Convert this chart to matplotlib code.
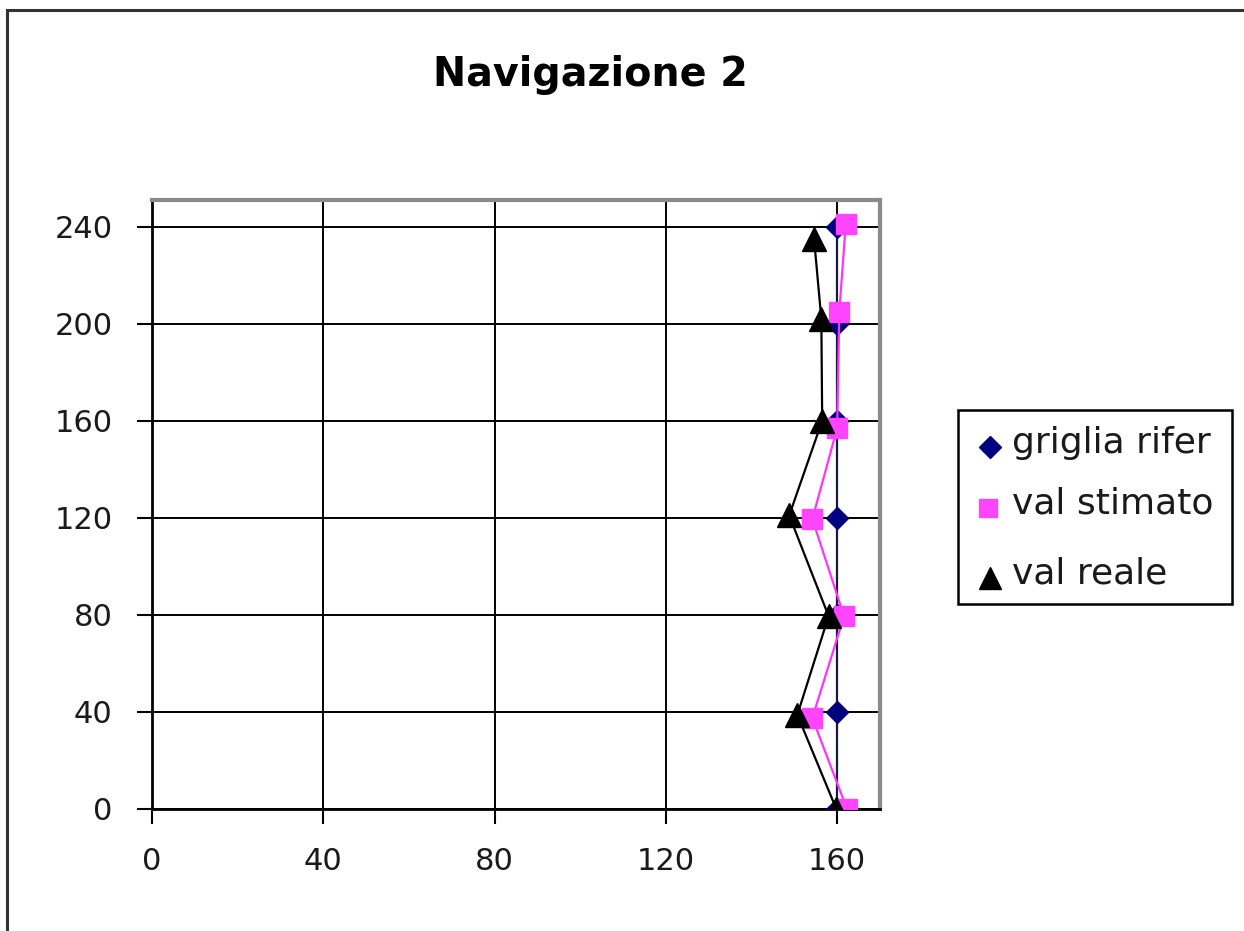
import matplotlib
matplotlib.use("Agg")
import matplotlib.pyplot as plt
from matplotlib.patches import Rectangle
from matplotlib.lines import Line2D

# Series: (x, y) positions for each run
griglia_x = [160, 160, 160, 160, 160, 160, 160]
griglia_y = [0, 40, 80, 120, 160, 200, 240]

stimato_x = [162.3, 154.2, 161.6, 154.2, 160.0, 160.5, 162.0]
stimato_y = [0, 37.5, 79.5, 119.5, 157, 205, 241]

reale_x = [159.8, 150.7, 158.0, 148.8, 156.5, 156.3, 154.6]
reale_y = [0, 38.8, 79.5, 121, 160, 202, 235]

x_ticks = [0, 40, 80, 120, 160]
y_ticks = [0, 40, 80, 120, 160, 200, 240]

title = "Navigazione 2"
labels = ["griglia rifer", "val stimato", "val reale"]

W, H = 1244, 931
plt.rcParams['font.family'] = ['DejaVu Sans']
fig = plt.figure(figsize=(W / 100, H / 100), dpi=100)
fig.patch.set_facecolor("white")


def fx(px):
    return px / W


def fy(py):
    return 1 - py / H


# outer chart border
fig.patches.append(Rectangle((fx(7), -0.05), 1.2, fy(10) + 0.05,
                             transform=fig.transFigure, fill=False,
                             edgecolor="#333333", linewidth=2.2))

ax = fig.add_axes([fx(152), fy(809), (880 - 152) / W, (809 - 200) / H])
ax.set_xlim(0, 170)
ax.set_ylim(0, 251)
ax.set_xticks(x_ticks)
ax.set_yticks(y_ticks)
ax.grid(True, color="black", linewidth=1.4)
ax.set_axisbelow(True)

for side in ("top", "right"):
    ax.spines[side].set_color("#8a8a8a")
    ax.spines[side].set_linewidth(3)
for side in ("left", "bottom"):
    ax.spines[side].set_color("black")
    ax.spines[side].set_linewidth(2)

ax.tick_params(direction="out", length=10.5, width=1.5, colors="black",
               labelsize=22, labelcolor="#1a1a1a")
ax.tick_params(axis="x", pad=17)
ax.tick_params(axis="y", pad=18)

series_style = [
    dict(color="#1a1a3a", marker="D", markersize=11, mfc="#000080", mec="#000080", z=3),
    dict(color="#ff33ff", marker="s", markersize=14, mfc="#ff44ff", mec="#ff44ff", z=4),
    dict(color="black", marker="^", markersize=17, mfc="black", mec="black", z=5),
]
series = [(griglia_x, griglia_y), (stimato_x, stimato_y), (reale_x, reale_y)]
for (xs, ys), st in zip(series, series_style):
    ax.plot(xs, ys, color=st["color"], linewidth=1.6, marker=st["marker"],
            markersize=st["markersize"], markerfacecolor=st["mfc"],
            markeredgecolor=st["mec"], zorder=st["z"])

fig.text(fx(590), fy(75), title, ha="center", va="center",
         fontsize=28.5, fontweight="bold", color="black")

# legend box, drawn by hand for exact placement
fig.patches.append(Rectangle((fx(958), fy(604)), (1232 - 958) / W, (604 - 410) / H,
                             transform=fig.transFigure, fill=True,
                             facecolor="white", edgecolor="black", linewidth=1.8,
                             zorder=5))
marker_pos = [(990, 447), (988, 508), (990, 578)]
text_baseline = [453, 514, 583]
legend_ms = [11.5, 13.5, 16]
for (mx, my), tb, st, lab, ms in zip(marker_pos, text_baseline, series_style, labels, legend_ms):
    fig.add_artist(Line2D([fx(mx)], [fy(my)], transform=fig.transFigure,
                          linestyle="none", marker=st["marker"], markersize=ms,
                          markerfacecolor=st["mfc"], markeredgecolor=st["mec"],
                          zorder=6))
    fig.text(fx(1012), fy(tb), lab, ha="left", va="baseline", fontsize=26,
             color="#1a1a1a", zorder=6)

fig.savefig("out.png", dpi=100, facecolor="white")
